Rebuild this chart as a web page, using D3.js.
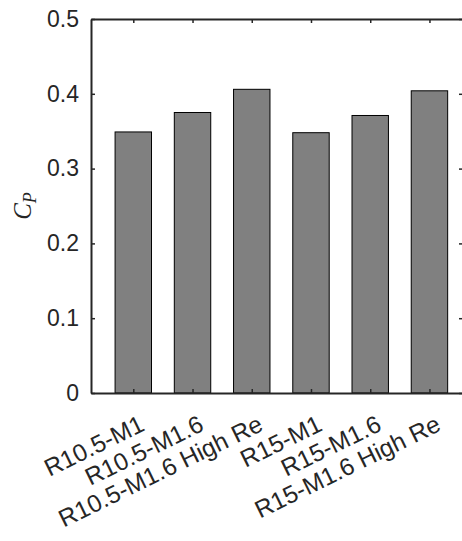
<!DOCTYPE html>
<html>
<head>
<meta charset="utf-8">
<script src="https://cdn.jsdelivr.net/npm/d3@7"></script>
<style>
  html, body { margin: 0; padding: 0; background: #fff; }
  svg { display: block; }
</style>
</head>
<body>
<svg id="chart" width="462" height="541"></svg>
<script>
// Power coefficient per case
const categories = ["R10.5-M1", "R10.5-M1.6", "R10.5-M1.6 High Re", "R15-M1", "R15-M1.6", "R15-M1.6 High Re"];
const cpValues = [0.349, 0.375, 0.406, 0.348, 0.371, 0.404];
const yTicks = [0, 0.1, 0.2, 0.3, 0.4, 0.5];
const yTickLabels = ["0", "0.1", "0.2", "0.3", "0.4", "0.5"];

const svg = d3.select("#chart");
const plotLeft = 91, plotRight = 466, plotTop = 19, plotBottom = 393;
const axisColor = "#262626";
const font = "'Liberation Sans', Arial, Helvetica, sans-serif";

// bar positions are category indices 1..n
const x = d3.scaleLinear().domain([0.286, 6.617]).range([plotLeft, plotRight]);
const y = d3.scaleLinear().domain([0, 0.5]).range([plotBottom, plotTop]);
const barW = 0.615;

// bars
svg.append("g").selectAll("rect")
  .data(cpValues)
  .join("rect")
  .attr("x", (d, i) => x(i + 1 - barW / 2))
  .attr("width", (d, i) => x(i + 1 + barW / 2) - x(i + 1 - barW / 2))
  .attr("y", d => y(d))
  .attr("height", d => y(0) - y(d))
  .attr("fill", "#808080")
  .attr("stroke", "#000")
  .attr("stroke-width", 1);

// left axis
const yAxis = d3.axisLeft(y).tickValues(yTicks)
  .tickFormat((d, i) => yTickLabels[i]).tickSizeInner(-4).tickSizeOuter(0).tickPadding(12);
const gy = svg.append("g").attr("transform", `translate(${plotLeft},0)`).call(yAxis);
gy.select(".domain").attr("stroke", axisColor).attr("stroke-width", 2);
gy.selectAll(".tick line").attr("stroke", axisColor).attr("stroke-width", 1.5);
gy.selectAll(".tick text").attr("fill", axisColor).style("font-family", font).style("font-size", "23px");

// right axis (ticks only inward)
const yAxisR = d3.axisRight(y).tickValues(yTicks).tickFormat("").tickSizeInner(-7).tickSizeOuter(0);
const gyr = svg.append("g").attr("transform", `translate(${plotRight},0)`).call(yAxisR);
gyr.select(".domain").attr("stroke", axisColor).attr("stroke-width", 2);
gyr.selectAll(".tick line").attr("stroke", axisColor).attr("stroke-width", 1.5);

// bottom axis
const xAxis = d3.axisBottom(x).tickValues(d3.range(1, categories.length + 1))
  .tickFormat("").tickSizeInner(-4).tickSizeOuter(0);
const gx = svg.append("g").attr("transform", `translate(0,${plotBottom})`).call(xAxis);
gx.select(".domain").attr("stroke", axisColor).attr("stroke-width", 2);
gx.selectAll(".tick line").attr("stroke", axisColor).attr("stroke-width", 1.5);

// top axis
const xAxisT = d3.axisTop(x).tickValues(d3.range(1, categories.length + 1))
  .tickFormat("").tickSizeInner(-4).tickSizeOuter(0);
const gxt = svg.append("g").attr("transform", `translate(0,${plotTop})`).call(xAxisT);
gxt.select(".domain").attr("stroke", axisColor).attr("stroke-width", 2);
gxt.selectAll(".tick line").attr("stroke", axisColor).attr("stroke-width", 1.5);

// rotated category labels
svg.append("g").selectAll("text")
  .data(categories)
  .join("text")
  .attr("transform", (d, i) => `translate(${x(i + 1) + 10},${plotBottom + 31}) rotate(-26)`)
  .attr("text-anchor", "end")
  .attr("dominant-baseline", "middle")
  .attr("fill", axisColor)
  .style("font-family", font)
  .style("font-size", "24.5px")
  .text(d => d);

// y label C_P
const yl = svg.append("text")
  .attr("transform", `translate(31,${(plotTop + plotBottom) / 2}) rotate(-90)`)
  .attr("text-anchor", "middle")
  .attr("fill", axisColor)
  .style("font-family", "'Liberation Serif', 'Times New Roman', serif")
  .style("font-style", "italic")
  .style("font-size", "25px");
yl.append("tspan").text("C");
yl.append("tspan").attr("dy", 5).style("font-size", "18px").text("P");
</script>
</body>
</html>
